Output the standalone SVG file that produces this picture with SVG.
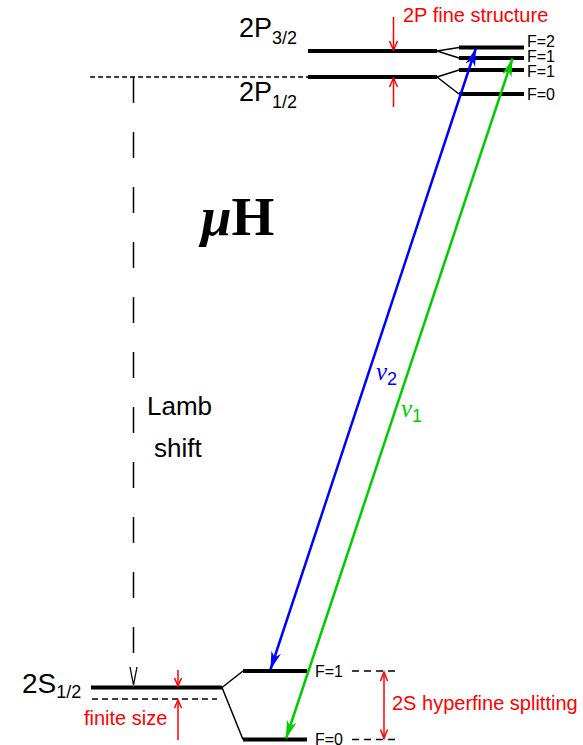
<svg xmlns="http://www.w3.org/2000/svg" width="583" height="745" viewBox="0 0 583 745">
<style>
.lvl{stroke:#000;stroke-width:4;fill:none}
.fan{stroke:#000;stroke-width:1.5;fill:none}
.dash{stroke:#000;stroke-width:1.5;fill:none;stroke-dasharray:5 3}
.red{stroke:#f00;stroke-width:1.5;fill:none}
.txt{font-family:"Liberation Sans",Arial,sans-serif;fill:#000}
.rtxt{font-family:"Liberation Sans",Arial,sans-serif;fill:#f00;font-size:20px}
.ftxt{font-family:"Liberation Sans",Arial,sans-serif;fill:#000;font-size:16px}
</style>
<defs>
<marker id="hb" markerUnits="userSpaceOnUse" viewBox="-19 -6 20 12" refX="0" refY="0" markerWidth="20" markerHeight="12" orient="auto-start-reverse">
<path d="M0,0 L-18,-5 L-13,0 L-18,5 Z" fill="#00f"/>
</marker>
<marker id="hg" markerUnits="userSpaceOnUse" viewBox="-19 -6 20 12" refX="0" refY="0" markerWidth="20" markerHeight="12" orient="auto-start-reverse">
<path d="M0,0 L-18,-5 L-13,0 L-18,5 Z" fill="#0c0"/>
</marker>
</defs>

<g id="level-2P32">
<line class="lvl" x1="308" y1="51" x2="437" y2="51"/>
<text class="txt" x="239" y="37" font-size="27">2P<tspan font-size="18" dy="7">3/2</tspan></text>
</g>
<g id="level-2P12">
<line class="lvl" x1="308" y1="77" x2="437" y2="77"/>
<text class="txt" x="239" y="101" font-size="27">2P<tspan font-size="18" dy="7">1/2</tspan></text>
</g>
<g id="level-2P-F2">
<line class="lvl" x1="459" y1="47.5" x2="524" y2="47.5"/>
<text class="ftxt" x="527" y="47">F=2</text>
</g>
<g id="level-2P-F1a">
<line class="lvl" x1="459" y1="58" x2="524" y2="58"/>
<text class="ftxt" x="527" y="62">F=1</text>
</g>
<g id="level-2P-F1b">
<line class="lvl" x1="459" y1="70" x2="524" y2="70"/>
<text class="ftxt" x="527" y="77">F=1</text>
</g>
<g id="level-2P-F0">
<line class="lvl" x1="459" y1="94" x2="524" y2="94"/>
<text class="ftxt" x="527" y="100">F=0</text>
</g>
<g id="level-2S12">
<line class="lvl" x1="91" y1="687.5" x2="222" y2="687.5"/>
<text class="txt" x="22" y="693" font-size="28">2S<tspan font-size="18" dy="5">1/2</tspan></text>
</g>
<g id="level-2S-F1">
<line class="lvl" x1="243" y1="671" x2="307" y2="671"/>
<text class="ftxt" x="315" y="677">F=1</text>
</g>
<g id="level-2S-F0">
<line class="lvl" x1="243" y1="739.5" x2="307" y2="739.5"/>
<text class="ftxt" x="315" y="745">F=0</text>
</g>
<g id="title">
<text x="201" y="235" font-family="'Liberation Serif','Times New Roman',serif" font-size="55" font-weight="bold" fill="#000"><tspan font-style="italic">μ</tspan>H</text>
</g>
<g id="lamb-label">
<text class="txt" x="147" y="415" font-size="26">Lamb</text>
<text class="txt" x="154" y="457" font-size="26">shift</text>
</g>

<g id="connectors">
<path class="fan" d="M437,51 L459,47.5 M437,51 L459,58"/>
<path class="fan" d="M437,77 L459,70 M437,77 L459,94"/>
<path class="fan" d="M222,687.5 L243,671 M222,687.5 L243,739.5"/>
<line class="dash" x1="90" y1="77" x2="308" y2="77"/>
<line class="dash" x1="92" y1="699" x2="217" y2="699" style="stroke-dasharray:6 4"/>
<line class="dash" x1="352" y1="671" x2="400" y2="671" style="stroke-dasharray:7 5"/>
<line class="dash" x1="352" y1="739.5" x2="400" y2="739.5" style="stroke-dasharray:7 5"/>
<line x1="133.5" y1="77" x2="133.5" y2="657" stroke="#000" stroke-width="1.5" stroke-dasharray="26 29"/>
<path d="M130,667 L133.5,685 L137,667" stroke="#000" stroke-width="1.3" fill="none"/>
<line class="red" x1="393.5" y1="17" x2="393.5" y2="50"/>
<path class="red" d="M389.5,41 L393.5,50 L397.5,41"/>
<line class="red" x1="393.5" y1="107" x2="393.5" y2="78"/>
<path class="red" d="M389.5,87 L393.5,78 L397.5,87"/>
<text class="rtxt" x="403" y="22">2P fine structure</text>
<line class="red" x1="178" y1="670" x2="178" y2="686"/>
<path class="red" d="M174.5,678 L178,686 L181.5,678"/>
<line class="red" x1="178" y1="740" x2="178" y2="700"/>
<path class="red" d="M174.5,708 L178,700 L181.5,708"/>
<text class="rtxt" x="84" y="725">finite size</text>
<line class="red" x1="384" y1="672" x2="384" y2="738.5"/>
<path class="red" d="M380.5,681 L384,672 L387.5,681 M380.5,729.5 L384,738.5 L387.5,729.5"/>
<text class="rtxt" x="392" y="710">2S hyperfine splitting</text>
<line x1="270.5" y1="669.5" x2="476" y2="48" stroke="#00f" stroke-width="2.5" marker-start="url(#hb)" marker-end="url(#hb)"/>
<line x1="286" y1="738.5" x2="512.5" y2="58.5" stroke="#0c0" stroke-width="2.5" marker-start="url(#hg)" marker-end="url(#hg)"/>
<text x="376" y="380" font-family="'Liberation Serif','Times New Roman',serif" font-style="italic" font-size="25" fill="#00f">ν<tspan font-family="'Liberation Sans',Arial,sans-serif" font-style="normal" font-size="18" dy="5">2</tspan></text>
<text x="401" y="417" font-family="'Liberation Serif','Times New Roman',serif" font-style="italic" font-size="25" fill="#0c0">ν<tspan font-family="'Liberation Sans',Arial,sans-serif" font-style="normal" font-size="18" dy="5">1</tspan></text>
</g>
</svg>
